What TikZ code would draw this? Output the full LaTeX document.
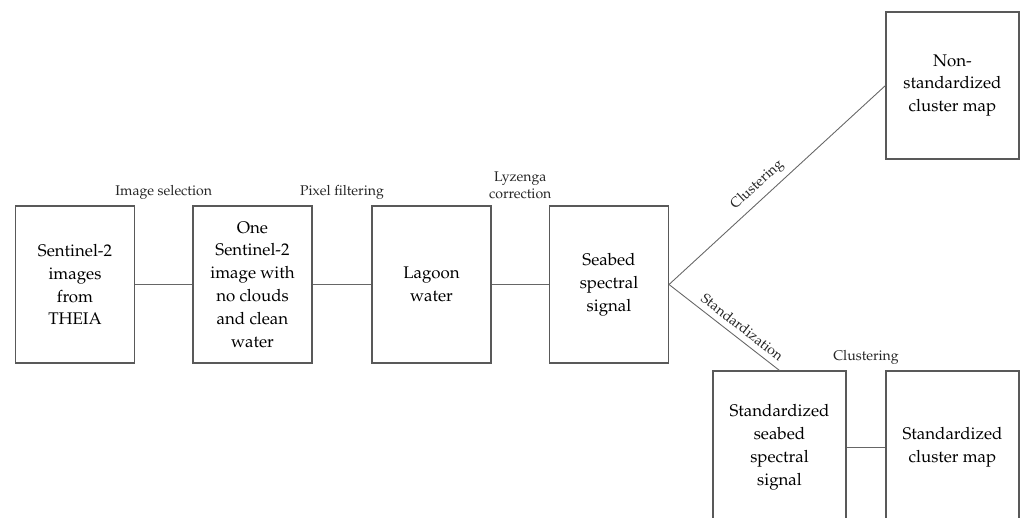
\documentclass[tikz,border=0pt]{standalone}
\usepackage[T1]{fontenc}
\usepackage{mathpazo}
\usepackage{tikz}

\tikzset{
  box/.style={draw=black!65, line width=0.6pt, minimum width=2.38cm, minimum height=3.14cm, align=center, font=\fontsize{9.6}{13}\selectfont},
  bigbox/.style={box, minimum width=2.66cm, minimum height=2.94cm},
  tallbox/.style={bigbox, minimum height=3.06cm},
  lbl/.style={font=\fontsize{8}{10}\selectfont, align=center, text=black!85},
  conn/.style={draw=black!60, line width=0.5pt}
}

\begin{document}
\begin{tikzpicture}
  \useasboundingbox (0,0) rectangle (20.4,-10.36); % 画像の大きさ

  \node[box] (theia) at (1.50,-5.69) {Sentinel-2\\images\\from\\THEIA}; % 左から順に
  \node[box] (one) at (5.05,-5.69) {One\\Sentinel-2\\image with\\no clouds\\and clean\\water};
  \node[box] (lagoon) at (8.63,-5.69) {Lagoon\\water};
  \node[box] (seabed) at (12.18,-5.69) {Seabed\\spectral\\signal};
  \node[bigbox] (nonstd) at (19.05,-1.71) {Non-\\standardized\\cluster map}; % 右上
  \node[tallbox] (stdsig) at (15.59,-8.95) {Standardized\\seabed\\spectral\\signal}; % 右下、下辺は画像の外
  \node[tallbox] (stdmap) at (19.05,-8.95) {Standardized\\cluster map};

  \draw[conn] (theia) -- (one);
  \draw[conn] (one) -- (lagoon);
  \draw[conn] (lagoon) -- (seabed);
  \draw[conn] (seabed.east) -- (nonstd.west) node[lbl, pos=0.45, sloped, above] {Clustering};
  \draw[conn] (seabed.east) -- (stdsig.north) node[lbl, pos=0.6, sloped, above] {Standardization};
  \draw[conn] (stdsig) -- (stdmap);

  % 箱の上のラベル
  \path (theia.north east) -- (one.north west) node[lbl, midway, above] {Image selection};
  \path (one.north east) -- (lagoon.north west) node[lbl, midway, above] {Pixel filtering};
  \path (lagoon.north east) -- (seabed.north west) node[lbl, midway, above] {Lyzenga\\correction};
  \path (stdsig.north east) -- (stdmap.north west) node[lbl, midway, above] {Clustering};
\end{tikzpicture}
\end{document}
